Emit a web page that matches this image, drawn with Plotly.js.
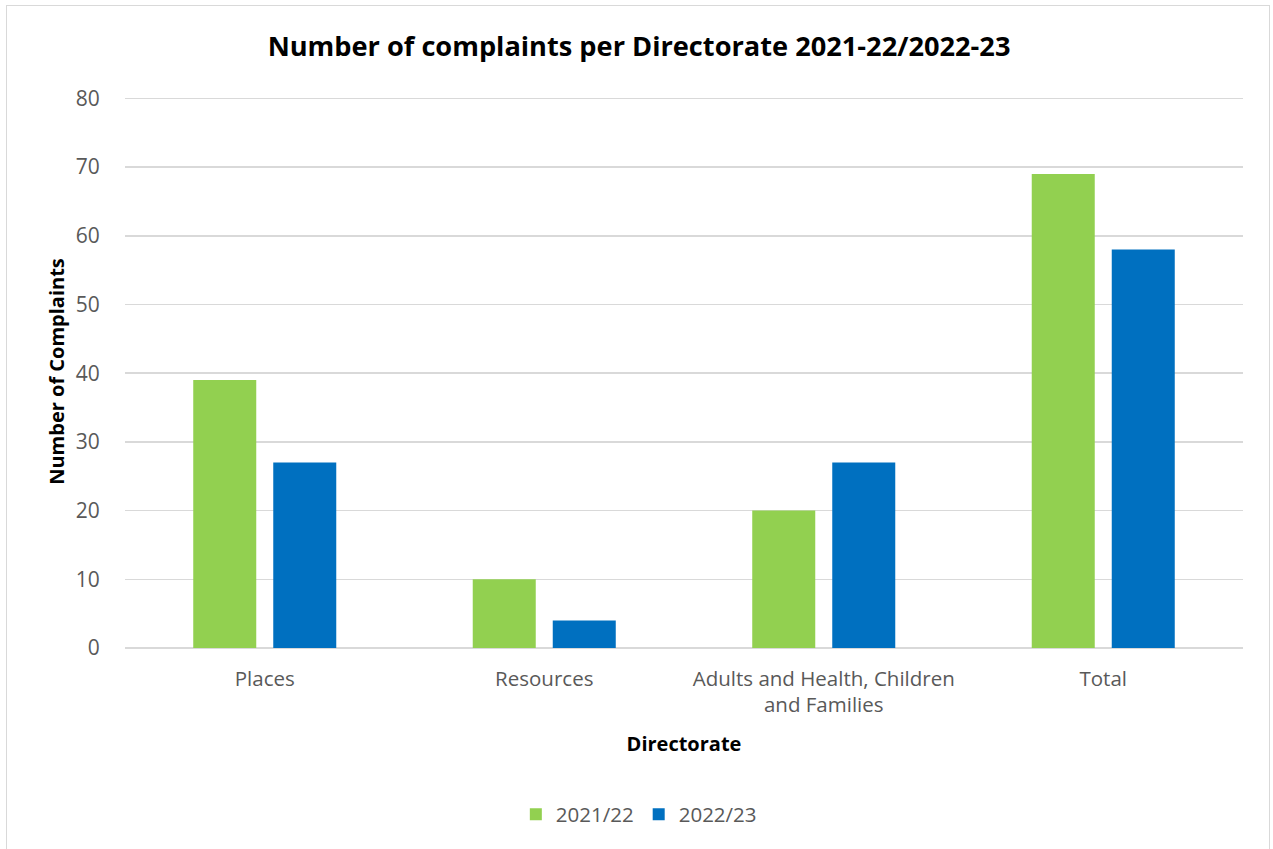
<!DOCTYPE html>
<html><head><meta charset="utf-8">
<script src="https://cdn.plot.ly/plotly-3.0.1.min.js"></script>
<style>
body{margin:0;padding:0;background:#fff;}
#wrap{position:relative;width:1273px;height:849px;}
#frame{position:absolute;left:6px;top:5px;width:1264px;height:850px;border:1px solid #D9D9D9;box-sizing:border-box;pointer-events:none;}
#chart{position:absolute;left:0;top:0;width:1273px;height:849px;}
</style></head>
<body><div id="wrap"><div id="chart"></div><div id="frame"></div></div>
<script>
const categories = ["Places", "Resources", "Adults and Health, Children<br>and Families", "Total"];
const seriesNames = ["2021/22", "2022/23"];
const values2122 = [39, 10, 20, 69];
const values2223 = [27, 4, 27, 58];
const yTicks = [0, 10, 20, 30, 40, 50, 60, 70, 80];

const font = "Open Sans, Liberation Sans, sans-serif";
const data = [
  {type:"bar", name:seriesNames[0], x:categories, y:values2122, marker:{color:"#92D050"}, hoverinfo:"y"},
  {type:"bar", name:seriesNames[1], x:categories, y:values2223, marker:{color:"#0070C0"}, hoverinfo:"y"}
];
const layout = {
  width:1273, height:849,
  paper_bgcolor:"#fff", plot_bgcolor:"#fff",
  margin:{l:125, r:30, t:94.5, b:200.5, autoexpand:false},
  barmode:"group", bargap:0.4275, bargroupgap:0.2125,
  title:{text:"<b>Number of complaints per Directorate 2021-22/2022-23</b>", x:0.502, xanchor:"center", y:0.945, yanchor:"middle", font:{family:font, size:27.2, color:"#000"}},
  font:{family:font, color:"#595959"},
  xaxis:{
    type:"category", tickfont:{size:20.5, color:"#595959"}, ticks:"outside", ticklen:12, tickcolor:"rgba(0,0,0,0)",
    showgrid:false, zeroline:false, showline:false, automargin:false,
    title:{text:"<b>Directorate</b>", font:{size:20, color:"#000"}, standoff:19}
  },
  yaxis:{
    range:[0,80.5], tickvals:yTicks, ticktext:yTicks.map(String), tickfont:{size:21, color:"#595959"},
    gridcolor:"#D9D9D9", gridwidth:1.5, zeroline:true, zerolinecolor:"#D9D9D9", zerolinewidth:1.5, showline:false,
    ticks:"outside", ticklen:20, tickcolor:"rgba(0,0,0,0)", automargin:false,
    title:{text:"<b>Number of Complaints</b>", font:{size:20, color:"#000"}, standoff:5}
  },
  showlegend:true,
  legend:{orientation:"h", x:0.4596, xanchor:"center", y:-0.301, yanchor:"middle", font:{size:20.5, color:"#595959"}, traceorder:"normal", itemwidth:30},
};
Plotly.newPlot("chart", data, layout, {displayModeBar:false, staticPlot:true});
</script></body></html>
